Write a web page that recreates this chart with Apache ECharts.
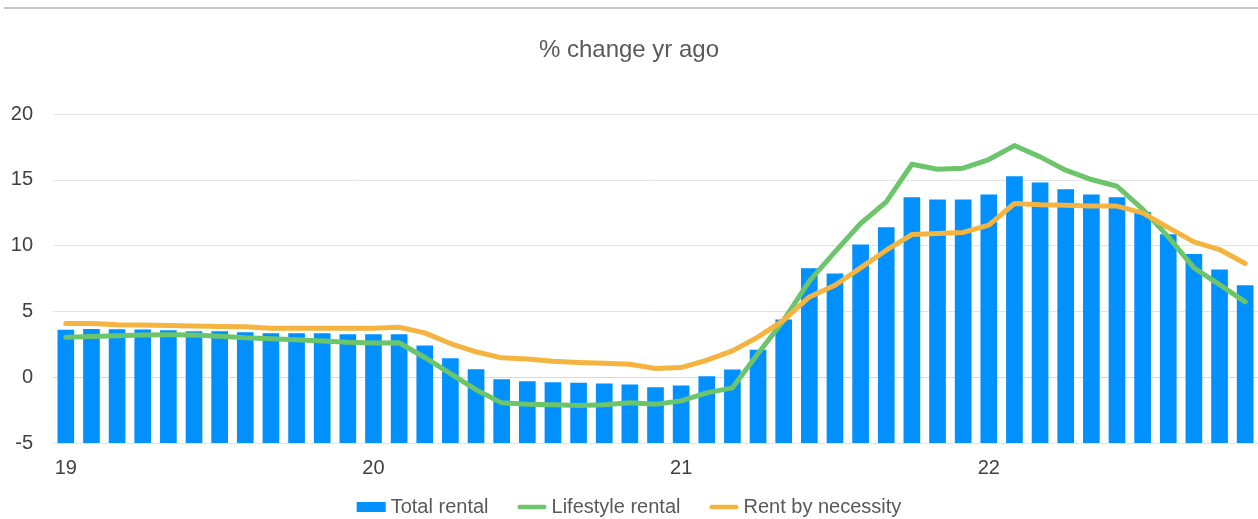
<!DOCTYPE html>
<html>
<head>
<meta charset="utf-8">
<script src="https://cdn.jsdelivr.net/npm/echarts@6/dist/echarts.min.js"></script>
<style>
  html, body { margin: 0; padding: 0; background: #ffffff; }
  #chart { width: 1258px; height: 519px; }
</style>
</head>
<body>
<div id="chart"></div>
<script>
// Months Jan 2019 .. Nov 2022
const months = [
  '2019-01','2019-02','2019-03','2019-04','2019-05','2019-06','2019-07','2019-08','2019-09','2019-10','2019-11','2019-12',
  '2020-01','2020-02','2020-03','2020-04','2020-05','2020-06','2020-07','2020-08','2020-09','2020-10','2020-11','2020-12',
  '2021-01','2021-02','2021-03','2021-04','2021-05','2021-06','2021-07','2021-08','2021-09','2021-10','2021-11','2021-12',
  '2022-01','2022-02','2022-03','2022-04','2022-05','2022-06','2022-07','2022-08','2022-09','2022-10','2022-11'
];
const yearTickLabels = ['19', '20', '21', '22'];

const totalRental = [
  3.60, 3.67, 3.65, 3.62, 3.57, 3.50, 3.50, 3.42, 3.34, 3.34, 3.34, 3.27,
  3.27, 3.27, 2.41, 1.44, 0.61, -0.15, -0.30, -0.38, -0.43, -0.48, -0.56, -0.76,
  -0.63, 0.08, 0.58, 2.08, 4.38, 8.28, 7.88, 10.08, 11.40, 13.68, 13.50, 13.50,
  13.88, 15.27, 14.79, 14.29, 13.88, 13.68, 12.56, 10.87, 9.37, 8.18, 6.99
];
const lifestyleRental = [
  3.04, 3.10, 3.15, 3.20, 3.22, 3.20, 3.12, 3.00, 2.93, 2.85, 2.75, 2.65,
  2.60, 2.62, 1.50, 0.28, -0.95, -1.95, -2.05, -2.10, -2.15, -2.10, -1.95, -2.05,
  -1.80, -1.19, -0.81, 1.80, 4.33, 7.30, 9.52, 11.68, 13.32, 16.18, 15.80, 15.88,
  16.54, 17.60, 16.74, 15.73, 15.02, 14.51, 12.77, 10.66, 8.31, 7.04, 5.72
];
const rentByNecessity = [
  4.08, 4.08, 3.98, 3.96, 3.93, 3.90, 3.85, 3.83, 3.72, 3.72, 3.72, 3.72,
  3.72, 3.80, 3.37, 2.56, 1.93, 1.47, 1.39, 1.22, 1.12, 1.06, 0.99, 0.66,
  0.73, 1.29, 2.00, 3.06, 4.33, 6.10, 6.99, 8.31, 9.65, 10.84, 10.92, 11.00,
  11.55, 13.20, 13.10, 13.07, 13.00, 13.00, 12.49, 11.37, 10.28, 9.70, 8.64
];

const FONT = '"Liberation Sans", Arial, Helvetica, sans-serif';
const LINE_ICON = 'path://M2.5,0 H28.5 A2.5,2.5 0 0 1 28.5,5 H2.5 A2.5,2.5 0 0 1 2.5,0 Z';
const chart = echarts.init(document.getElementById('chart'), null, { renderer: 'canvas' });

chart.setOption({
  animation: false,
  backgroundColor: '#ffffff',
  textStyle: { fontFamily: FONT },
  graphic: [{
    type: 'rect',
    left: 4, top: 7,
    shape: { width: 1254, height: 2 },
    style: { fill: '#c8c8c8' },
    silent: true
  }],
  title: {
    text: '% change yr ago',
    left: 'center',
    top: 38,
    padding: 0,
    textStyle: { fontFamily: FONT, fontSize: 24, fontWeight: 'normal', color: '#595959' }
  },
  legend: {
    top: 497,
    left: 'center',
    padding: 0,
    itemGap: 29,
    itemWidth: 29,
    itemHeight: 10,
    textStyle: { fontFamily: FONT, fontSize: 20, color: '#595959' },
    data: [
      { name: 'Total rental', icon: 'rect' },
      { name: 'Lifestyle rental', icon: LINE_ICON },
      { name: 'Rent by necessity', icon: LINE_ICON }
    ]
  },
  grid: { left: 53, right: 0, top: 114, bottom: 76, containLabel: false },
  xAxis: {
    type: 'category',
    data: months,
    boundaryGap: true,
    axisLine: { show: true, lineStyle: { color: '#d9d9d9', width: 1 } },
    axisTick: { show: false },
    axisLabel: {
      interval: 11,
      margin: 15,
      fontFamily: FONT,
      fontSize: 20,
      color: '#404040',
      formatter: function (v, i) { return yearTickLabels[Math.floor(i / 12)] || ''; }
    },
    splitLine: { show: false }
  },
  yAxis: {
    type: 'value',
    min: -5,
    max: 20,
    interval: 5,
    startValue: -5,
    axisLine: { show: false },
    axisTick: { show: false },
    axisLabel: { margin: 20, fontFamily: FONT, fontSize: 20, color: '#404040' },
    splitLine: { show: true, lineStyle: { color: '#e3e3e3', width: 1 } }
  },
  series: [
    {
      name: 'Total rental',
      type: 'bar',
      data: totalRental,
      barCategoryGap: '35%',
      itemStyle: { color: '#0090ff' },
      z: 2
    },
    {
      name: 'Lifestyle rental',
      type: 'line',
      data: lifestyleRental,
      symbol: 'none',
      smooth: false,
      lineStyle: { color: '#6cc56a', width: 5, cap: 'round', join: 'round' },
      itemStyle: { color: '#6cc56a' },
      z: 3
    },
    {
      name: 'Rent by necessity',
      type: 'line',
      data: rentByNecessity,
      symbol: 'none',
      smooth: false,
      lineStyle: { color: '#f4b43f', width: 5, cap: 'round', join: 'round' },
      itemStyle: { color: '#f4b43f' },
      z: 4
    }
  ]
});
</script>
</body>
</html>
